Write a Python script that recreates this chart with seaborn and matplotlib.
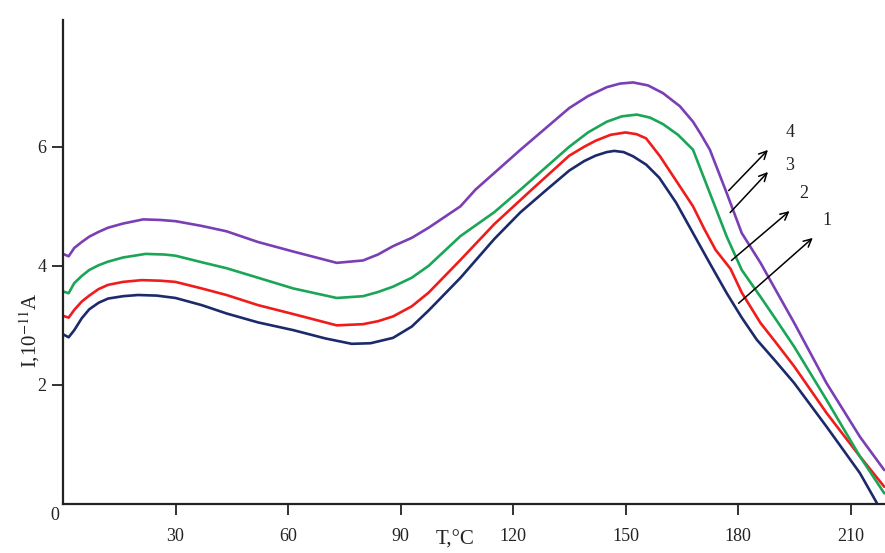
import pandas as pd
import numpy as np
import seaborn as sns
import matplotlib.pyplot as plt

# curve 1 (dark blue)
t1 = [0, 1.5, 3, 5, 7, 9.5, 12, 16, 20, 25, 30, 37, 43.6, 52, 61.4, 70, 77, 82, 88, 93, 97.5, 106, 115, 122, 129, 135, 139, 142, 145, 147, 149.5, 152, 155.5, 159, 163.5, 168, 172.5, 177, 181, 185, 190, 195, 203.6, 212.5, 217]
i1 = [2.85, 2.80, 2.92, 3.12, 3.27, 3.38, 3.45, 3.49, 3.51, 3.50, 3.46, 3.34, 3.20, 3.05, 2.92, 2.78, 2.69, 2.70, 2.79, 2.98, 3.25, 3.80, 4.45, 4.90, 5.28, 5.60, 5.76, 5.85, 5.91, 5.93, 5.91, 5.84, 5.70, 5.48, 5.06, 4.55, 4.04, 3.54, 3.13, 2.76, 2.40, 2.03, 1.30, 0.52, 0.02]
# curve 2 (red)
t2 = [0, 1.5, 3, 5, 7, 9.5, 12, 16, 21, 26, 30, 37, 43.6, 52, 61.4, 73, 80, 84, 88, 93, 97.5, 106, 115, 125, 135, 139, 142, 146, 150, 153, 155.5, 159.2, 163.5, 168, 171, 174, 178, 181, 186, 190, 195, 203.6, 212.5, 219]
i2 = [3.16, 3.13, 3.26, 3.40, 3.50, 3.61, 3.68, 3.73, 3.76, 3.75, 3.73, 3.62, 3.51, 3.34, 3.19, 3.00, 3.02, 3.07, 3.15, 3.32, 3.55, 4.10, 4.70, 5.28, 5.85, 6.00, 6.10, 6.20, 6.24, 6.21, 6.14, 5.84, 5.43, 5.00, 4.62, 4.27, 3.95, 3.55, 3.04, 2.72, 2.31, 1.53, 0.80, 0.29]
# curve 3 (green)
t3 = [0, 1.5, 3, 5, 7, 9.5, 12, 16, 22, 27, 30, 37, 43.6, 52, 61.4, 73, 80, 84, 88, 93, 97.5, 106, 115, 122, 135, 140, 145, 149, 153, 156.5, 160, 164, 168, 172.5, 177, 181, 186, 190, 195, 203.6, 212.5, 219]
i3 = [3.57, 3.54, 3.71, 3.83, 3.93, 4.01, 4.07, 4.14, 4.20, 4.19, 4.17, 4.06, 3.96, 3.80, 3.62, 3.46, 3.49, 3.56, 3.65, 3.80, 4.00, 4.50, 4.90, 5.28, 6.00, 6.24, 6.42, 6.51, 6.54, 6.49, 6.38, 6.20, 5.95, 5.22, 4.49, 3.93, 3.48, 3.11, 2.64, 1.75, 0.80, 0.18]
# curve 4 (purple)
t4 = [0, 1.5, 3, 5, 7, 9.5, 12, 16, 21.4, 26, 30, 37, 43.6, 52, 61.4, 73, 80, 84, 88, 93, 97.5, 106, 110, 122, 135, 140, 145, 148.5, 152, 156, 160, 164.5, 168, 170, 172.5, 177, 181, 186, 190, 195, 203.6, 212.5, 219]
i4 = [4.20, 4.16, 4.30, 4.40, 4.49, 4.57, 4.64, 4.71, 4.78, 4.77, 4.75, 4.67, 4.58, 4.40, 4.24, 4.05, 4.09, 4.19, 4.33, 4.47, 4.64, 5.00, 5.28, 5.95, 6.65, 6.85, 7.00, 7.06, 7.08, 7.03, 6.90, 6.68, 6.42, 6.22, 5.95, 5.22, 4.55, 4.05, 3.60, 3.04, 2.03, 1.13, 0.57]

names = ['1', '2', '3', '4']
colors = {'1': '#1c2a6b', '2': '#f01c1c', '3': '#1aa557', '4': '#7a3fb5'}

# arrows: tail on curve -> head, then label position
arrow_tail = [(179.6, 3.34), (177.7, 4.06), (177.4, 4.86), (177.0, 5.23)]
arrow_head = [(200.5, 4.50), (194.3, 4.95), (188.5, 5.61), (188.5, 5.98)]
label_pos = [(202.6, 4.62), (196.3, 5.08), (192.6, 5.55), (192.6, 6.10)]

xticks = [30, 60, 90, 120, 150, 180, 210]
yticks = [2, 4, 6]

df = pd.concat([
    pd.DataFrame({'T': t, 'I': i, 'curve': n})
    for t, i, n in zip([t1, t2, t3, t4], [i1, i2, i3, i4], names)
])

sns.set_style('ticks')
plt.rcParams['font.family'] = ['Liberation Serif', 'DejaVu Serif']
plt.rcParams['mathtext.fontset'] = 'stix'

fig = plt.figure(figsize=(8.85, 5.53), dpi=100)
ax = fig.add_axes([0.0712, 0.0886, 0.9288, 0.8754])

sns.lineplot(data=df, x='T', y='I', hue='curve', palette=colors, sort=True,
             estimator=None, linewidth=1.9, legend=False, ax=ax)
for ln in ax.lines:
    ln.set_solid_joinstyle('round')

for (x0, y0), (x1, y1), (lx, ly), n in zip(arrow_tail, arrow_head, label_pos, names):
    ax.annotate('', xy=(x1, y1), xytext=(x0, y0),
                arrowprops=dict(arrowstyle='->', color='black', lw=1.1,
                                mutation_scale=14))
    ax.text(lx, ly, n, fontsize=13, ha='left', va='bottom', color='#222222')

ax.set_xlim(0, 219.2)
ax.set_ylim(0, 8.13)
ax.set_xticks(xticks)
ax.set_yticks(yticks)
ax.tick_params(axis='both', direction='out', length=8, width=1.3,
               labelsize=13, colors='#222222')
ax.tick_params(axis='x', pad=9)
ax.tick_params(axis='y', pad=4)
for s in ['top', 'right']:
    ax.spines[s].set_visible(False)
for s in ['left', 'bottom']:
    ax.spines[s].set_linewidth(1.6)
    ax.spines[s].set_color('#222222')

ax.set_xlabel('')
ax.set_ylabel('')
ax.text(-2.1, -0.2, '0', fontsize=13, ha='center', va='center',
        clip_on=False, color='#222222')
ax.text(104.5, -0.6, 'T,°C', fontsize=15, ha='center', va='center',
        clip_on=False, color='#222222')
ax.text(-8.8, 2.92, 'I,10$^{-11}$A', fontsize=15, ha='center', va='center',
        rotation=90, clip_on=False, color='#222222')

fig.savefig('out.png', dpi=100)
